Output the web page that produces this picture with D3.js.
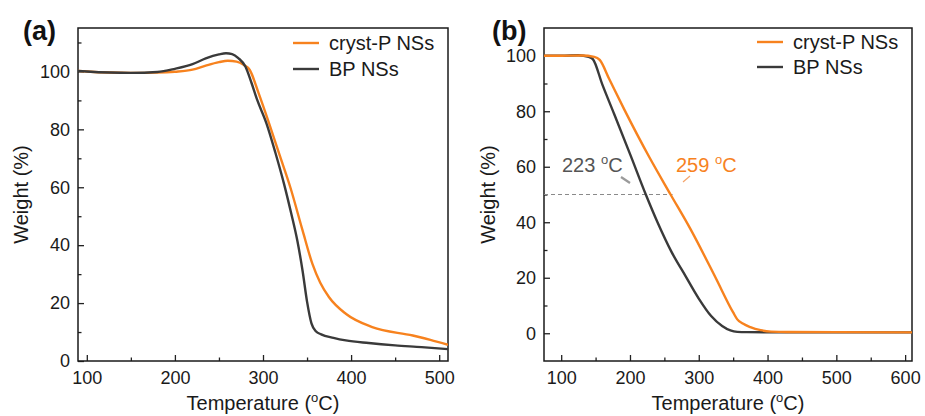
<!DOCTYPE html>
<html>
<head>
<meta charset="utf-8">
<script src="https://cdn.jsdelivr.net/npm/d3@7"></script>
<style>
  body { margin: 0; background: #fff; }
  svg { display: block; font-family: "Liberation Sans", Arial, sans-serif; }
</style>
</head>
<body>
<svg id="chart" width="925" height="416"></svg>
<script>
// ---------- DATA ----------
// Panel (a)
const aCrystT = [90, 100, 150, 180, 200, 220, 235, 250, 260, 270, 278, 285, 295, 307, 319, 331, 345, 356, 365, 375, 394, 424, 470, 490, 510];
const aCryst  = [100.2, 100, 99.5, 99.6, 99.9, 100.6, 102, 103.2, 103.7, 103.4, 102.3, 100.5, 92.5, 82, 71, 60, 45, 33.6, 27, 22, 16.3, 11.7, 8.8, 7.3, 5.6];
const aBPT    = [90, 100, 150, 180, 200, 220, 235, 250, 258, 265, 272, 280, 287, 293, 304, 314, 324, 332, 339, 345, 350, 355, 360, 366, 380, 394, 420, 450, 480, 510];
const aBP     = [100.2, 100, 99.5, 99.8, 100.9, 102.5, 104.5, 105.9, 106.3, 106, 104.6, 101.7, 96, 90.5, 82, 72, 61, 51, 41.5, 31, 20.5, 13, 10.3, 9.2, 8, 7.1, 6.2, 5.4, 4.8, 4.1];

// Panel (b)
const bCrystT = [75, 100, 130, 148, 156, 170, 192, 228, 259, 288, 324.5, 350, 356, 364, 375, 390, 405, 430, 500, 610];
const bCryst  = [100, 100, 100.1, 99.6, 98.5, 91.5, 80.5, 63.5, 50, 37.5, 20, 7.5, 5, 3.5, 2.2, 1.1, 0.6, 0.45, 0.4, 0.3];
const bBPT    = [75, 100, 125, 140, 146, 160, 177, 201, 223, 240, 260, 281, 300, 318, 334, 346, 356, 370, 450, 610];
const bBP     = [100, 100, 100.2, 99.6, 98.8, 89.5, 79, 64, 50, 40, 29.5, 20.5, 12.5, 6.2, 2.6, 1.0, 0.5, 0.4, 0.3, 0.3];

const seriesNames = ["cryst-P NSs", "BP NSs"];
const seriesColors = ["#f7821e", "#3a3a3a"];

const aXTicks = [100, 200, 300, 400, 500];
const aYTicks = [0, 20, 40, 60, 80, 100];
const bXTicks = [100, 200, 300, 400, 500, 600];
const bYTicks = [0, 20, 40, 60, 80, 100];

const halfTemps = [223, 259];

// ---------- DRAW ----------
const svg = d3.select("#chart");

function degText(sel, main, tail, size) {
  sel.append("tspan").text(main);
  sel.append("tspan").attr("font-size", size * 0.65).attr("dy", -size * 0.4).text("o");
  sel.append("tspan").attr("dy", size * 0.4).text(tail);
}

function panel(opts) {
  const g = svg.append("g");
  const x = d3.scaleLinear().domain(opts.xDomain).range([opts.left, opts.right]);
  const y = d3.scaleLinear().domain(opts.yDomain).range([opts.bottom, opts.top]);

  const styleAxis = a => {
    a.select(".domain").remove();
    a.selectAll("line").attr("stroke", "#222").attr("stroke-width", 1.3);
    a.selectAll("text").attr("font-size", 18).attr("fill", "#1a1a1a").attr("font-family", "Liberation Sans, Arial, sans-serif");
  };

  g.append("g").attr("transform", `translate(0,${opts.bottom})`)
    .call(d3.axisBottom(x).tickValues(opts.xTicks).tickSizeInner(-6).tickSizeOuter(0).tickPadding(10).tickFormat(d3.format("d")))
    .call(styleAxis);
  g.append("g").attr("transform", `translate(${opts.left},0)`)
    .call(d3.axisLeft(y).tickValues(opts.yTicks).tickSizeInner(-6).tickSizeOuter(0).tickPadding(8).tickFormat(d3.format("d")))
    .call(styleAxis);
  g.append("g").attr("transform", `translate(0,${opts.bottom})`)
    .call(d3.axisBottom(x).tickValues(opts.xMinor).tickSizeInner(-3.5).tickSizeOuter(0).tickFormat(""))
    .call(styleAxis);
  g.append("g").attr("transform", `translate(${opts.left},0)`)
    .call(d3.axisLeft(y).tickValues(opts.yMinor).tickSizeInner(-3.5).tickSizeOuter(0).tickFormat(""))
    .call(styleAxis);

  // frame
  g.append("rect").attr("x", opts.left).attr("y", opts.top)
    .attr("width", opts.right - opts.left).attr("height", opts.bottom - opts.top)
    .attr("fill", "none").attr("stroke", "#1a1a1a").attr("stroke-width", 1.5);

  const clipId = "clip" + opts.id;
  svg.append("clipPath").attr("id", clipId).append("rect")
    .attr("x", opts.left).attr("y", opts.top).attr("width", opts.right - opts.left).attr("height", opts.bottom - opts.top);

  const line = d3.line().x(d => x(d[0])).y(d => y(d[1])).curve(d3.curveMonotoneX);

  if (opts.extra) opts.extra(g, x, y);

  opts.series.forEach(s => {
    g.append("path").datum(d3.zip(s.t, s.w))
      .attr("clip-path", `url(#${clipId})`)
      .attr("fill", "none").attr("stroke", s.color).attr("stroke-width", 2.4)
      .attr("stroke-linejoin", "round").attr("d", line);
  });

  // legend
  seriesNames.forEach((n, i) => {
    const ly = opts.legY + i * opts.legGap;
    g.append("line").attr("x1", opts.legX).attr("x2", opts.legX + 26)
      .attr("y1", ly).attr("y2", ly).attr("stroke", seriesColors[i]).attr("stroke-width", 2.4);
    g.append("text").attr("x", opts.legX + 36).attr("y", ly + 7)
      .attr("font-size", 20).attr("fill", "#1a1a1a").text(n);
  });

  // axis titles
  const xt = g.append("text").attr("x", (opts.left + opts.right) / 2 + opts.xTitleDx).attr("y", 410)
    .attr("text-anchor", "middle").attr("font-size", 20).attr("fill", "#1a1a1a");
  degText(xt, "Temperature (", "C)", 20);

  g.append("text").attr("transform", `translate(${opts.yTitleX},${(opts.top + opts.bottom) / 2}) rotate(-90)`)
    .attr("text-anchor", "middle").attr("font-size", 20).attr("fill", "#1a1a1a").text("Weight (%)");

  // panel label
  g.append("text").attr("x", opts.labelX).attr("y", 40).attr("font-size", 27)
    .attr("font-weight", "bold").attr("fill", "#111").text(opts.label);
}

panel({
  id: "a", label: "(a)", labelX: 23,
  left: 78, right: 448, top: 28, bottom: 361,
  xDomain: [90, 510], yDomain: [0, 115],
  xTicks: aXTicks, yTicks: aYTicks,
  xMinor: [150, 250, 350, 450], yMinor: [10, 30, 50, 70, 90, 110],
  legX: 293, legY: 43, legGap: 26,
  xTitleDx: 0, yTitleX: 28,
  series: [
    { t: aCrystT, w: aCryst, color: seriesColors[0] },
    { t: aBPT, w: aBP, color: seriesColors[1] }
  ]
});

panel({
  id: "b", label: "(b)", labelX: 492,
  left: 544, right: 912, top: 28, bottom: 361,
  xDomain: [75, 610], yDomain: [-10, 110],
  xTicks: bXTicks, yTicks: bYTicks,
  xMinor: [150, 250, 350, 450, 550], yMinor: [10, 30, 50, 70, 90],
  legX: 757, legY: 42, legGap: 25,
  xTitleDx: 0, yTitleX: 495,
  series: [
    { t: bBPT, w: bBP, color: seriesColors[1] },
    { t: bCrystT, w: bCryst, color: seriesColors[0] }
  ],
  extra: (g, x, y) => {
    g.append("line").attr("x1", x(75)).attr("x2", x(halfTemps[1]) + 2)
      .attr("y1", y(50)).attr("y2", y(50))
      .attr("stroke", "#8a8a8a").attr("stroke-width", 1).attr("stroke-dasharray", "4,3");
    const t1 = g.append("text").attr("x", 562).attr("y", 172).attr("font-size", 20).attr("fill", "#555");
    degText(t1, halfTemps[0] + " ", "C", 20);
    const t2 = g.append("text").attr("x", 676).attr("y", 172).attr("font-size", 20).attr("fill", "#f7821e");
    degText(t2, halfTemps[1] + " ", "C", 20);
    g.append("line").attr("x1", 621).attr("y1", 177).attr("x2", 630).attr("y2", 183)
      .attr("stroke", "#9a9a9a").attr("stroke-width", 2.2);
    g.append("line").attr("x1", 690).attr("y1", 176).attr("x2", 683).attr("y2", 182)
      .attr("stroke", "#f5a46a").attr("stroke-width", 1.2);
  }
});
</script>
</body>
</html>
